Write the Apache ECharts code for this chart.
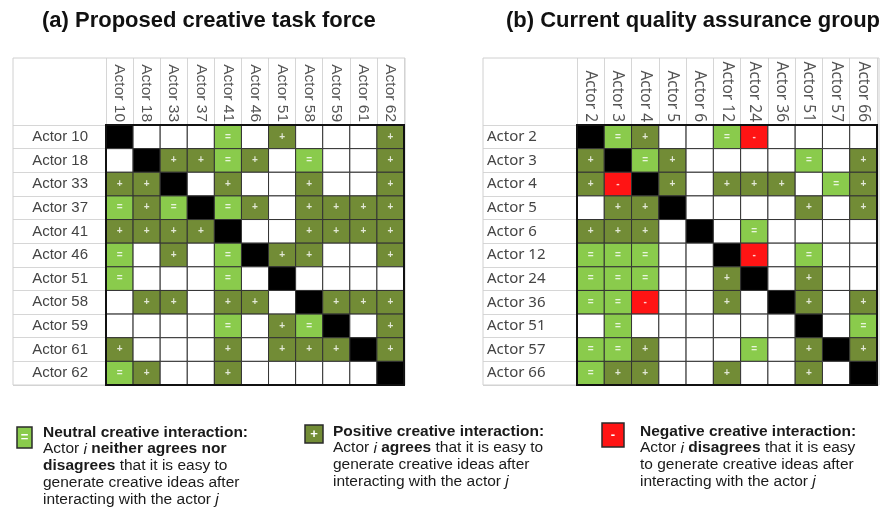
<!DOCTYPE html>
<html>
<head>
<meta charset="utf-8">
<script src="https://cdn.jsdelivr.net/npm/echarts@6/dist/echarts.min.js"></script>
<style>html,body{margin:0;background:#fff}#main{width:882px;height:514px}</style>
</head>
<body>
<div id="main"></div>
<script>
'use strict';

// rows = actor i, columns = actor j
var actorsA = ['Actor 10', 'Actor 18', 'Actor 33', 'Actor 37', 'Actor 41', 'Actor 46', 'Actor 51', 'Actor 58', 'Actor 59', 'Actor 61', 'Actor 62'];
var actorsB = ['Actor 2', 'Actor 3', 'Actor 4', 'Actor 5', 'Actor 6', 'Actor 12', 'Actor 24', 'Actor 36', 'Actor 51', 'Actor 57', 'Actor 66'];

// s = self, n = neutral, p = positive, m = negative, . = no link
var matrixA = [
    's...n.p...p',
    '.sppnp.n..p',
    'pps.p..p..p',
    'npnsnp.pppp',
    'pppps..pppp',
    'n.p.nspp..p',
    'n...n.s....',
    '.pp.pp.sppp',
    '....n.pns.p',
    'p...p.pppsp',
    'np..p.....s'
];
var matrixB = [
    'snp..nm....',
    'psnp....n.p',
    'pmsp.ppp.np',
    '.pps....p.p',
    'ppp.s.n....',
    'nnn..sm.n..',
    'nnn..ps.p..',
    'nnm..p.sp.p',
    '.n......s.n',
    'nnp...n.psp',
    'npp..p..p.s'
];

var CODES = ['.', 'n', 'p', 'm', 's'];
var FILL = { '.': '#ffffff', n: '#8acb4c', p: '#728c36', m: '#ff1414', s: '#000000' };
var MARK = { n: '=', p: '+', m: '-' };

var gridA = { left: 106, top: 125, width: 298, height: 260 };
var gridB = { left: 577, top: 125, width: 300, height: 260 };

function toData(rows) {
    var out = [];
    rows.forEach(function(row, r) {
        for (var c = 0; c < row.length; c++) {
            out.push([c, r, CODES.indexOf(row.charAt(c))]);
        }
    });
    return out;
}

function renderCell(params, api) {
    var code = CODES[api.value(2)];
    var p = api.coord([api.value(0), api.value(1)]);
    var sz = api.size([1, 1]);
    var kids = [{
        type: 'rect',
        shape: { x: p[0] - sz[0] / 2, y: p[1] - sz[1] / 2, width: sz[0], height: sz[1] },
        style: { fill: FILL[code], stroke: '#333', lineWidth: 1 }
    }];
    if (MARK[code]) {
        kids.push({
            type: 'text',
            x: p[0], y: p[1],
            style: { text: MARK[code], fill: 'rgba(255,255,255,0.8)', font: 'bold 10px "Liberation Sans"', align: 'center', verticalAlign: 'middle' }
        });
    }
    return { type: 'group', children: kids };
}

function xAxisFor(idx, names, family, size) {
    return {
        gridIndex: idx, type: 'category', position: 'top', data: names,
        axisLine: { show: false },
        axisTick: { show: true, interval: 0, length: 67, lineStyle: { color: '#d6d6d6' } },
        axisLabel: { rotate: 90, interval: 0, margin: 3, color: '#555', fontSize: size, fontFamily: family },
        splitLine: { show: false }
    };
}

function yAxisFor(idx, names, family, tickLen, labelOpt) {
    var lab = { interval: 0, color: '#444', fontSize: 15, fontFamily: family };
    for (var k in labelOpt) lab[k] = labelOpt[k];
    return {
        gridIndex: idx, type: 'category', inverse: true, data: names,
        axisLine: { show: false },
        axisTick: { show: true, interval: 0, length: tickLen, lineStyle: { color: '#d6d6d6' } },
        axisLabel: lab,
        splitLine: { show: false }
    };
}

function frame(g, x0, y0, x1) {
    return [
        { type: 'rect', z: 100, shape: { x: x0, y: y0, width: x1 - x0, height: g.top + g.height - y0 },
          style: { fill: 'none', stroke: '#d0d0d0', lineWidth: 1 } },
        { type: 'rect', z: 101, shape: { x: g.left, y: g.top, width: g.width, height: g.height },
          style: { fill: 'none', stroke: '#111', lineWidth: 2 } }
    ];
}

var TXT = { fontSize: 15.5, fontFamily: 'Liberation Sans', lineHeight: 16.8 };
function legendText(x, y, lines) {
    var base = { fontSize: TXT.fontSize, fontFamily: TXT.fontFamily, lineHeight: TXT.lineHeight, fill: '#1a1a1a' };
    return {
        type: 'text', x: x, y: y,
        style: {
            text: lines.join('\n'),
            font: TXT.fontSize + 'px "Liberation Sans"', lineHeight: TXT.lineHeight, fill: '#1a1a1a', verticalAlign: 'top',
            rich: {
                b: echarts.util.extend({ fontWeight: 'bold' }, base),
                i: echarts.util.extend({ fontStyle: 'italic' }, base)
            }
        }
    };
}
function swatch(x, y, w, h, color, mark) {
    return {
        type: 'group', children: [
            { type: 'rect', shape: { x: x, y: y, width: w, height: h }, style: { fill: color, stroke: '#2a2a2a', lineWidth: 1.5 } },
            { type: 'text', x: x + w / 2, y: y + h / 2, style: { text: mark, fill: '#fff', font: 'bold 13px "Liberation Sans"', align: 'center', verticalAlign: 'middle' } }
        ]
    };
}

var chart = echarts.init(document.getElementById('main'));

function titleStyle(size) {
    return { fontSize: size, fontWeight: 'bold', color: '#111', fontFamily: 'Liberation Sans' };
}

var option = {
    backgroundColor: '#fff',
    animation: false,
    title: [
        { text: '(a) Proposed creative task force', left: 42, top: 10, padding: 0, textStyle: titleStyle(22) },
        { text: '(b) Current quality assurance group', left: 506, top: 10, padding: 0, textStyle: titleStyle(22) }
    ],
    grid: [
        { left: gridA.left, top: gridA.top, width: gridA.width, height: gridA.height },
        { left: gridB.left, top: gridB.top, width: gridB.width, height: gridB.height }
    ],
    xAxis: [
        xAxisFor(0, actorsA, 'Liberation Sans', 15.5),
        xAxisFor(1, actorsB, 'Noto Sans', 15.5)
    ],
    yAxis: [
        yAxisFor(0, actorsA, 'Liberation Sans', 93, { margin: 18 }),
        yAxisFor(1, actorsB, 'Noto Sans', 94, { margin: 90, align: 'left' })
    ],
    series: [
        { type: 'custom', xAxisIndex: 0, yAxisIndex: 0, renderItem: renderCell, encode: { x: 0, y: 1 }, data: toData(matrixA) },
        { type: 'custom', xAxisIndex: 1, yAxisIndex: 1, renderItem: renderCell, encode: { x: 0, y: 1 }, data: toData(matrixB) }
    ],
    graphic: [].concat(
        frame(gridA, 13, 58, 405),
        frame(gridB, 483, 58, 879),
        [
            swatch(17, 427, 15, 21, FILL.n, '='),
            legendText(43, 424, [
                '{b|Neutral creative interaction:}',
                'Actor {i|i} {b|neither agrees nor}',
                '{b|disagrees} that it is easy to',
                'generate creative ideas after',
                'interacting with the actor {i|j}'
            ]),
            swatch(305, 425, 18, 18, FILL.p, '+'),
            legendText(333, 423, [
                '{b|Positive creative interaction:}',
                'Actor {i|i} {b|agrees} that it is easy to',
                'generate creative ideas after',
                'interacting with the actor {i|j}'
            ]),
            swatch(602, 423, 22, 24, FILL.m, '-'),
            legendText(640, 423, [
                '{b|Negative creative interaction:}',
                'Actor {i|i} {b|disagrees} that it is easy',
                'to generate creative ideas after',
                'interacting with the actor {i|j}'
            ])
        ]
    )
};

chart.setOption(option);
</script>
</body>
</html>
